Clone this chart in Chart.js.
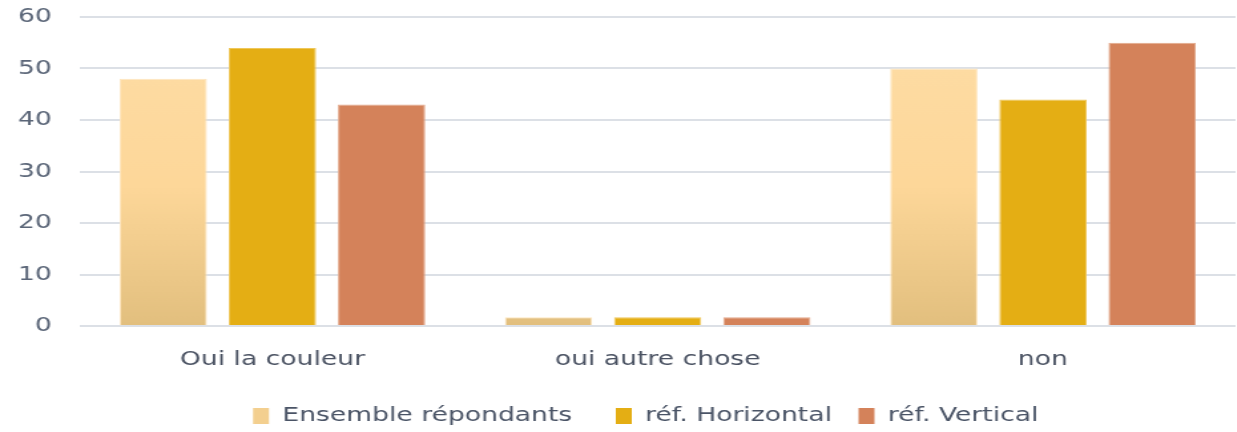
<!DOCTYPE html>
<html lang="fr">
<head>
  <meta charset="UTF-8">
  <title>Graphique</title>
  <script src="https://cdn.jsdelivr.net/npm/chart.js"></script>
  <style>
    body { margin: 0; background: #fff; overflow: hidden; }
    /* the reference is stretched horizontally, so is the canvas */
    #wrap { width: 930px; height: 432px; transform: scaleX(1.33); transform-origin: 0 0; }
  </style>
</head>
<body>

  <div id="wrap">
    <canvas id="myChart" width="930" height="432"></canvas>
  </div>

  <script>
    const categories = ['Oui la couleur', 'oui autre chose', 'non'];
    const seriesNames = ['Ensemble répondants', 'réf. Horizontal', 'réf. Vertical'];
    const ensemble = [48, 1.7, 50];
    const horizontal = [54, 1.7, 44];
    const vertical = [43, 1.7, 55];
    const yTicks = [0, 10, 20, 30, 40, 50, 60];

    // light gradient for the first series, computed on the chart area
    function ensembleFill(context) {
      const chart = context.chart;
      const area = chart.chartArea;
      if (!area) return '#F3CF8F';
      const g = chart.ctx.createLinearGradient(0, area.top, 0, area.bottom);
      g.addColorStop(0, '#FEDDA6');
      g.addColorStop(0.55, '#FDD799');
      g.addColorStop(1, '#E2BF7E');
      return g;
    }

    // the legend sits a bit right of the page centre in the reference
    const shiftLegend = {
      id: 'shiftLegend',
      afterLayout(chart) {
        chart.legend.left += 21;
        chart.legend.right += 21;
      }
    };

    const data = {
      labels: categories,
      datasets: [
        { label: seriesNames[0], data: ensemble, backgroundColor: ensembleFill, borderColor: '#FEE6BE', borderWidth: 1 },
        { label: seriesNames[1], data: horizontal, backgroundColor: '#E4AE14', borderColor: '#EFC75A', borderWidth: 1 },
        { label: seriesNames[2], data: vertical, backgroundColor: '#D4825A', borderColor: '#E3A98C', borderWidth: 1 }
      ]
    };

    const config = {
      type: 'bar',
      data: data,
      plugins: [shiftLegend],
      options: {
        responsive: false,
        animation: false,
        layout: { padding: { top: 0, right: 1, left: 0, bottom: -4 } },
        datasets: { bar: { categoryPercentage: 0.85, barPercentage: 0.8 } },
        scales: {
          x: {
            afterFit: axis => { axis.paddingLeft = 0; axis.paddingRight = 0; },
            grid: { display: false },
            border: { display: false },
            ticks: { color: '#4A5262', font: { family: 'DejaVu Sans', size: 20 }, padding: 14 }
          },
          y: {
            min: 0,
            max: 60,
            afterBuildTicks: axis => { axis.ticks = yTicks.map(v => ({ value: v })); },
            afterFit: axis => { axis.width = 60; axis.paddingTop = 17; axis.paddingBottom = 12; },
            grid: { color: '#DCE0E6', lineWidth: 2, drawTicks: false },
            border: { display: false },
            ticks: { color: '#5B6678', font: { family: 'DejaVu Sans', size: 20 }, padding: 21 }
          }
        },
        plugins: {
          tooltip: { enabled: false },
          legend: {
            position: 'bottom',
            labels: {
              color: '#4A5466',
              font: { family: 'DejaVu Sans', size: 20 },
              boxWidth: 12,
              boxHeight: 16,
              padding: 20,
              generateLabels: chart => {
                const items = Chart.defaults.plugins.legend.labels.generateLabels(chart);
                items[0].fillStyle = '#F3CF8F';
                items[0].text += '  ';
                items.forEach(it => { it.lineWidth = 0; });
                return items;
              }
            }
          }
        }
      }
    };

    const ctx = document.getElementById('myChart').getContext('2d');
    const myChart = new Chart(ctx, config);
  </script>

</body>
</html>
